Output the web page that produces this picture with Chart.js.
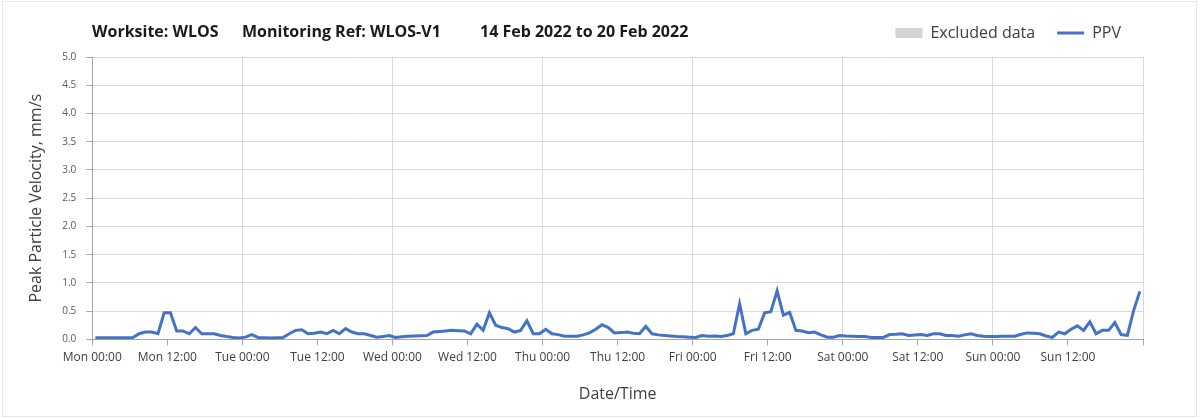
<!DOCTYPE html>
<html>
<head>
<meta charset="utf-8">
<script src="https://cdn.jsdelivr.net/npm/chart.js@4/dist/chart.umd.min.js"></script>
<style>
  html, body { margin: 0; padding: 0; background: #fff; }
  #wrap { position: relative; width: 1202px; height: 419px; }
  #frame { position: absolute; left: 2px; top: 1px; width: 1193px; height: 414px; border: 1px solid #e6e6e6; pointer-events: none; }
</style>
</head>
<body>
<div id="wrap">
  <canvas id="myChart" width="1202" height="419"></canvas>
  <div id="frame"></div>
</div>
<script>
// hourly PPV readings, Mon 14 Feb 00:00 -> Sun 20 Feb 23:00 (mm/s)
var ppvMon = [0.03, 0.03, 0.03, 0.03, 0.03, 0.03, 0.035, 0.10, 0.13, 0.13, 0.10, 0.47,
              0.47, 0.15, 0.15, 0.10, 0.21, 0.10, 0.10, 0.10, 0.07, 0.05, 0.035, 0.025];
var ppvTue = [0.04, 0.085, 0.035, 0.03, 0.025, 0.03, 0.035, 0.10, 0.16, 0.17, 0.10, 0.11,
              0.13, 0.10, 0.16, 0.10, 0.19, 0.13, 0.10, 0.10, 0.07, 0.04, 0.05, 0.07];
var ppvWed = [0.035, 0.045, 0.055, 0.06, 0.065, 0.07, 0.13, 0.14, 0.15, 0.16, 0.155, 0.15,
              0.10, 0.27, 0.16, 0.47, 0.25, 0.21, 0.19, 0.13, 0.16, 0.33, 0.10, 0.10];
var ppvThu = [0.18, 0.10, 0.085, 0.055, 0.055, 0.055, 0.08, 0.115, 0.18, 0.26, 0.21, 0.115,
              0.12, 0.13, 0.11, 0.10, 0.23, 0.10, 0.08, 0.07, 0.06, 0.05, 0.045, 0.04];
var ppvFri = [0.035, 0.07, 0.055, 0.06, 0.05, 0.07, 0.10, 0.63, 0.10, 0.16, 0.18, 0.47,
              0.49, 0.86, 0.43, 0.48, 0.16, 0.15, 0.12, 0.13, 0.08, 0.04, 0.04, 0.07];
var ppvSat = [0.06, 0.055, 0.05, 0.05, 0.035, 0.035, 0.035, 0.085, 0.09, 0.10, 0.07, 0.08,
              0.085, 0.07, 0.10, 0.10, 0.07, 0.07, 0.055, 0.08, 0.10, 0.07, 0.055, 0.05];
var ppvSun = [0.05, 0.055, 0.055, 0.055, 0.09, 0.115, 0.11, 0.10, 0.06, 0.035, 0.13, 0.10,
              0.18, 0.24, 0.16, 0.31, 0.10, 0.16, 0.16, 0.30, 0.085, 0.07, 0.51, 0.85];

var dayNames = ["Mon", "Tue", "Wed", "Thu", "Fri", "Sat", "Sun"];
var timeLabels = ["00:00", "12:00"];
var titleParts = ["Worksite: WLOS", "Monitoring Ref: WLOS-V1", "14 Feb 2022 to 20 Feb 2022"];

var ppvAll = [].concat(ppvMon, ppvTue, ppvWed, ppvThu, ppvFri, ppvSat, ppvSun);
// readings sit in the middle of each hour
var ppvPoints = ppvAll.map(function (v, i) { return { x: i + 0.5, y: v }; });

var headerTitle = {
  id: "headerTitle",
  beforeInit: function (chart) {
    // leave a gap under the legend before the plot starts
    var fit = chart.legend.fit;
    chart.legend.fit = function () {
      fit.bind(chart.legend)();
      this.height += 6;
    };
  },
  afterDraw: function (chart) {
    var c = chart.ctx;
    var xs = [92, 242, 480];
    c.save();
    c.font = "bold 16px 'Open Sans'";
    c.fillStyle = "#1a1a1a";
    c.textBaseline = "middle";
    titleParts.forEach(function (t, i) { c.fillText(t, xs[i], 32); });
    c.restore();
  },
};

var ctx = document.getElementById("myChart").getContext("2d");
var chart = new Chart(ctx, {
  type: "line",
  data: {
    datasets: [
      {
        type: "bar",
        label: "Excluded data",
        data: [],
        backgroundColor: "#d4d4d4",
        pointStyle: "rect",
      },
      {
        label: "PPV",
        data: ppvPoints,
        borderColor: "#4472c4",
        backgroundColor: "#4472c4",
        borderWidth: 3,
        pointRadius: 0,
        pointStyle: "line",
        tension: 0,
      },
    ],
  },
  plugins: [headerTitle],
  options: {
    responsive: false,
    animation: false,
    layout: { padding: { top: 3, right: 59, left: 23, bottom: 11 } },
    plugins: {
      legend: {
        position: "top",
        align: "end",
        labels: {
          usePointStyle: true,
          pointStyleWidth: 27,
          boxHeight: 10,
          padding: 22,
          color: "#404040",
          font: { family: "'Open Sans'", size: 16 },
        },
      },
      tooltip: { enabled: false },
    },
    scales: {
      x: {
        type: "linear",
        min: 0,
        max: 168,
        offset: false,
        ticks: {
          stepSize: 12,
          autoSkip: false,
          maxRotation: 0,
          color: "#404040",
          font: { family: "'Open Sans'", size: 12 },
          padding: 5,
          callback: function (v) {
            if (v >= 168) return "";
            return dayNames[Math.floor(v / 24)] + " " + timeLabels[(v % 24) / 12];
          },
        },
        grid: {
          offset: false,
          color: function (c) {
            return c.tick && c.tick.value % 24 === 0 ? "#d9d9d9" : "rgba(0,0,0,0)";
          },
          tickColor: "#a6a6a6",
          tickLength: 6,
        },
        border: { color: "#a6a6a6" },
        title: {
          display: true,
          text: "Date/Time",
          color: "#404040",
          font: { family: "'Open Sans'", size: 16 },
          padding: { top: 15 },
        },
      },
      y: {
        min: 0,
        max: 5,
        ticks: {
          stepSize: 0.5,
          color: "#595959",
          font: { family: "'Open Sans'", size: 10 },
          padding: 10,
          callback: function (v) { return v.toFixed(1); },
        },
        grid: { color: "#d9d9d9", tickColor: "#a6a6a6", tickLength: 6 },
        border: { color: "#a6a6a6" },
        title: {
          display: true,
          text: "Peak Particle Velocity, mm/s",
          color: "#404040",
          font: { family: "'Open Sans'", size: 16 },
          padding: { bottom: 6 },
        },
      },
    },
  },
});
</script>
</body>
</html>
